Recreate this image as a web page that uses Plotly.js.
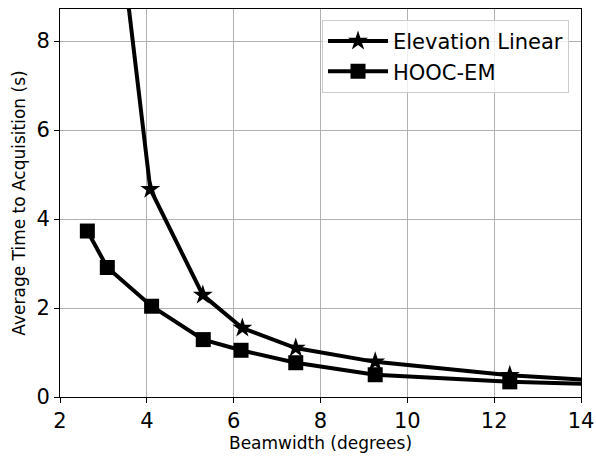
<!DOCTYPE html>
<html>
<head>
<meta charset="utf-8">
<script src="https://cdn.plot.ly/plotly-3.0.1.min.js"></script>
<style>html,body{margin:0;padding:0;background:#fff;}#chart{width:596px;height:456px;}</style>
</head>
<body>
<div id="chart"></div>
<script>
// Beamwidth (degrees)
const elevX = [3.08, 4.08, 5.29, 6.20, 7.43, 9.26, 12.36, 16.0];
const elevY = [12.9, 4.67, 2.29, 1.55, 1.10, 0.79, 0.49, 0.27];
const hoocX = [2.63, 3.09, 4.11, 5.30, 6.17, 7.43, 9.26, 12.36, 16.0];
const hoocY = [3.73, 2.91, 2.04, 1.29, 1.05, 0.77, 0.50, 0.34, 0.25];
const seriesNames = ["Elevation Linear", "HOOC-EM"];
const xTicks = [2, 4, 6, 8, 10, 12, 14];
const yTicks = [0, 2, 4, 6, 8];

const font = "DejaVu Sans, sans-serif";
const traces = [
  {x: elevX, y: elevY, name: seriesNames[0], mode: "lines+markers",
   line: {color: "#000", width: 4}, marker: {symbol: "star", size: 15, color: "#000"}},
  {x: hoocX, y: hoocY, name: seriesNames[1], mode: "lines+markers",
   line: {color: "#000", width: 4}, marker: {symbol: "square", size: 15, color: "#000"}}
];
const axisCommon = {
  showline: true, linecolor: "#000", linewidth: 1, mirror: true,
  ticks: "outside", ticklen: 5, tickcolor: "#000", tickwidth: 1,
  showgrid: true, gridcolor: "#b0b0b0", gridwidth: 1, zeroline: false,
  tickfont: {family: font, size: 21, color: "#000"}
};
const layout = {
  width: 596, height: 456,
  margin: {l: 60, r: 15, t: 9, b: 59},
  paper_bgcolor: "#fff", plot_bgcolor: "#fff",
  showlegend: true,
  legend: {x: 0.977, y: 0.972, xanchor: "right", yanchor: "top",
    bgcolor: "rgba(255,255,255,0.8)", bordercolor: "#cccccc", borderwidth: 1,
    itemwidth: 60,
    font: {family: font, size: 21, color: "#000"}, tracegroupgap: 0},
  xaxis: Object.assign({}, axisCommon, {range: [2, 14], tickvals: xTicks,
    title: {text: "Beamwidth (degrees)", font: {family: font, size: 17, color: "#000"}, standoff: 4}}),
  yaxis: Object.assign({}, axisCommon, {range: [0, 8.72], tickvals: yTicks,
    title: {text: "Average Time to Acquisition (s)", font: {family: font, size: 17, color: "#000"}, standoff: 6}})
};
Plotly.newPlot("chart", traces, layout, {displayModeBar: false, staticPlot: true});
</script>
</body>
</html>
